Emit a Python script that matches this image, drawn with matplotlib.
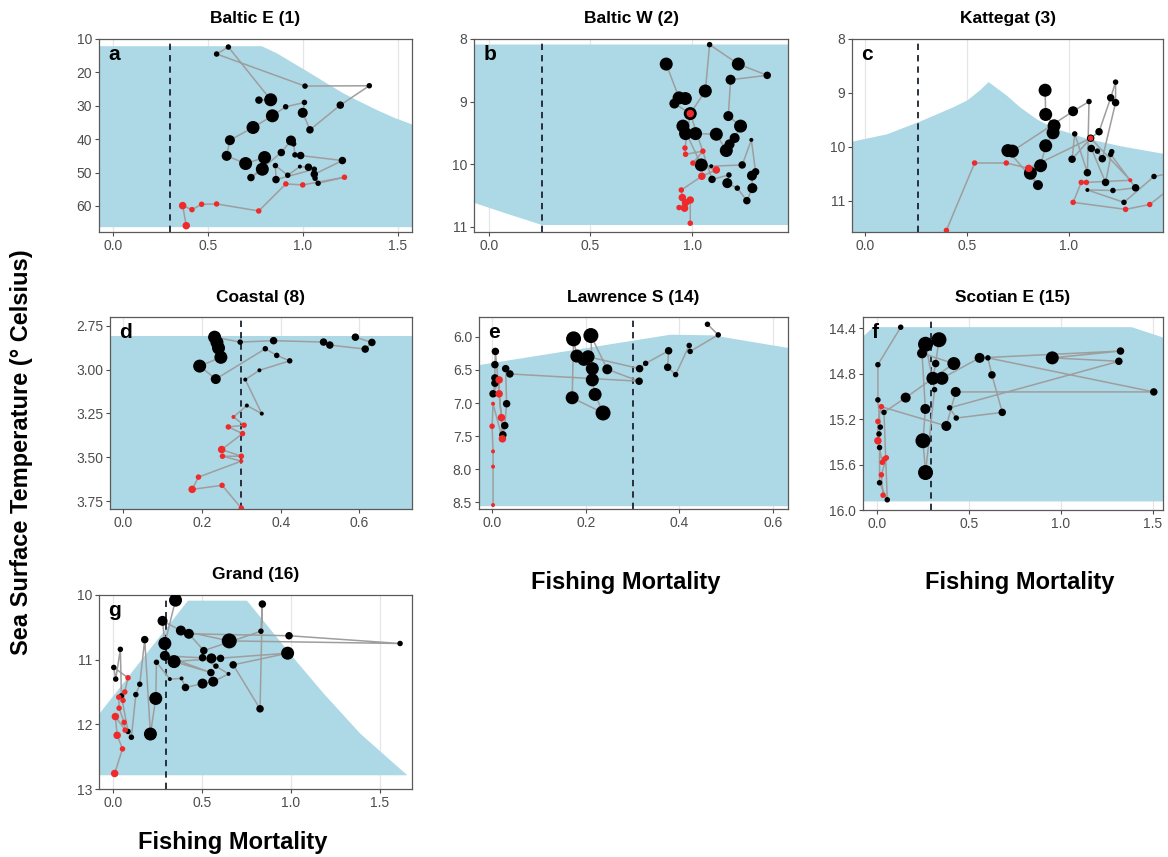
import matplotlib
matplotlib.use("Agg")
import matplotlib.pyplot as plt
import numpy as np

plt.rcParams['font.family'] = ['Liberation Sans', 'DejaVu Sans']

# ---------------- data ----------------
titles = ["Baltic E (1)", "Baltic W (2)", "Kattegat (3)", "Coastal (8)",
          "Lawrence S (14)", "Scotian E (15)", "Grand (16)"]
letters = ["a", "b", "c", "d", "e", "f", "g"]
f_ref = [0.3, 0.26, 0.26, 0.3, 0.3, 0.295, 0.296]

# Panel a
xa = [0.768,0.83,0.607,0.545,1.011,1.35,1.197,1.037,0.999,1.008,0.909,0.839,0.737,0.615,0.598,0.698,0.798,0.786,0.726,0.886,0.937,0.951,0.958,0.988,1.208,1.06,1.029,0.984,0.92,0.855,0.858,1.06,1.064,1.08]
ya = [28.3,28.2,12.4,14.5,24.1,24.0,29.8,37.2,32.1,29.0,30.3,33.0,36.5,40.3,45.0,47.3,45.5,49.0,51.5,44.0,40.4,41.4,44.7,44.9,46.4,50.5,48.4,48.2,50.8,47.9,52.1,49.0,51.7,53.2]
sa = [3,5,2,2,2,2,3,3,4,2,2,5,5,4,4,5,5,5,3,3,4,2,2,3,3,3,3,1,2,2,3,2,2,2]
xra = [1.219,0.999,0.91,0.767,0.545,0.466,0.415,0.366,0.385]
yra = [51.4,53.7,53.4,61.5,59.4,59.5,61.1,59.9,65.9]
sra = [2,2,2,2,2,2,2,3,3]
rib_xa = [-0.08,0.78,0.862,0.95,1.01,1.125,1.213,1.30,1.39,1.477,1.58]
rib_ta = [12,12,14.2,17.2,19.2,23.2,26.2,28.7,31.2,33.4,35.6]
rib_ba = [66.2]*11

# Panel b
xb = [0.872,0.935,0.966,0.912,0.99,1.064,1.085,1.226,1.368,1.188,1.177,1.237,1.208,1.183,1.167,1.118,1.016,0.967,0.954,1.044,1.093,1.245,1.29,1.311,1.293,1.295,1.268,1.221,1.172,1.18,1.097]
yb = [8.40,8.94,8.95,9.03,9.19,8.83,8.09,8.40,8.58,8.65,9.23,9.39,9.58,9.68,9.78,9.52,9.51,9.51,9.39,10.01,10.03,10.01,9.61,10.12,10.18,10.38,10.58,10.38,10.30,10.17,10.24]
sb = [5,5,5,4,5,5,2,5,3,4,4,5,4,4,5,5,5,5,5,5,1,3,1,3,4,4,3,2,4,2,3]
xrb = [0.99,0.964,0.967,1.052,1.003,1.118,1.047,0.946,0.951,0.967,0.935,0.962,0.99,0.99]
yrb = [9.19,9.74,9.84,9.79,9.98,10.09,10.19,10.41,10.53,10.61,10.69,10.70,10.57,10.94]
srb = [3,2,2,2,2,3,3,2,3,3,2,3,3,2]
rib_xb = [-0.08,0.087,0.259,1.48]
rib_tb = [8.08,8.08,8.08,8.08]
rib_bb = [10.6,10.78,10.96,10.96]

# Panel c
xc = [0.883,0.886,0.927,0.922,0.886,0.861,0.811,0.848,0.701,0.723,1.02,1.098,1.09,1.028,1.015,1.106,1.147,1.204,1.228,1.228,1.163,1.139,1.109,1.179,1.209,1.204,1.326,1.215,1.09,1.269,1.416,1.62]
yc = [8.95,9.40,9.61,9.74,9.98,10.35,10.49,10.71,10.07,10.08,9.34,9.16,10.48,9.76,10.23,9.84,9.72,9.09,8.80,9.18,10.22,10.08,10.03,10.66,10.09,10.14,10.76,10.81,10.80,11.03,10.55,10.40]
sc = [5,5,5,5,5,5,5,4,5,5,4,2,3,2,3,3,3,3,2,3,3,2,3,3,2,2,3,2,1,2,2,2]
xrc = [1.395,1.277,1.02,1.06,1.085,1.30,1.106,0.803,0.693,0.538,0.40]
yrc = [11.07,11.16,11.03,10.66,10.66,10.62,9.84,10.40,10.30,10.30,11.55]
src = [2,2,2,2,2,1,2,3,2,2,2]
rib_xc = [-0.07,0.106,0.27,0.43,0.5,0.563,0.604,0.693,0.759,0.84,0.92,1.085,1.25,1.46]
rib_tc = [9.9,9.76,9.52,9.26,9.13,8.94,8.79,9.04,9.26,9.48,9.64,9.84,9.98,10.12]
rib_bc = [11.6]*14

# Panel d
xd = [0.59,0.632,0.615,0.525,0.509,0.382,0.297,0.232,0.238,0.242,0.248,0.194,0.235,0.361,0.39,0.423,0.346,0.31,0.352,0.314]
yd = [2.815,2.845,2.883,2.86,2.843,2.835,2.843,2.815,2.845,2.877,2.93,2.98,3.054,2.881,2.919,2.95,3.004,3.057,3.251,3.205]
sd = [3,3,3,3,3,3,2,5,5,5,5,5,4,2,2,2,1,1,1,1]
xrd = [0.28,0.307,0.267,0.303,0.25,0.30,0.252,0.30,0.191,0.175,0.251,0.30]
yrd = [3.27,3.317,3.327,3.365,3.456,3.494,3.494,3.522,3.613,3.683,3.66,3.79]
srd = [1,2,2,2,3,2,2,1,2,3,2,2]
rib_xd = [-0.04,0.74]
rib_td = [2.81,2.81]
rib_bd = [3.80,3.80]

# Panel e
xe = [0.46,0.483,0.423,0.421,0.392,0.375,0.377,0.328,0.315,0.205,0.196,0.181,0.174,0.171,0.237,0.22,0.214,0.214,0.211,0.246,0.314,0.038,0.029,0.031,0.027,0.023,0.007,0.006,0.006,0.006,0.002]
ye = [5.81,5.97,6.22,6.13,6.57,6.46,6.21,6.40,6.48,6.30,6.34,6.29,6.03,6.92,7.15,6.87,6.65,6.48,5.98,6.49,6.67,6.56,6.48,7.01,7.34,7.48,6.22,6.42,6.62,6.70,6.86]
se = [2,2,2,2,2,3,3,2,3,5,5,5,6,5,6,5,5,5,6,4,3,3,3,3,3,3,3,3,3,3,3]
xre = [0.015,0.015,0.02,0.022,0.002,0.0,0.002,0.002,0.002]
yre = [6.65,6.86,7.22,7.54,7.01,7.35,7.73,7.96,8.54]
sre = [3,3,3,3,1,2,1,1,1]
rib_xe = [-0.03,0.38,0.47,0.64]
rib_te = [6.42,5.96,5.97,6.17]
rib_be = [8.55,8.55,8.55,8.55]

# Panel f
xf = [0.129,0.005,0.005,0.018,0.011,0.014,0.014,0.056,0.038,0.156,0.418,0.245,0.263,0.25,0.264,0.313,0.264,0.337,0.319,0.304,0.353,0.558,1.324,0.953,1.315,0.395,0.431,0.681,0.625,0.603,1.505,0.428,0.377]
yf = [14.39,14.72,15.03,15.27,15.33,15.45,15.76,15.91,15.14,15.01,14.71,14.62,15.11,15.39,15.67,14.94,14.54,14.50,14.71,14.84,14.84,14.66,14.60,14.66,14.69,15.10,15.19,15.14,14.81,14.66,14.96,14.96,15.26]
sf = [2,2,2,2,2,2,2,2,2,4,5,4,4,6,6,2,6,6,3,5,5,4,3,5,3,2,2,3,3,2,3,4,4]
xrf = [0.024,0.005,0.005,0.029,0.042,0.051,0.024,0.033]
yrf = [15.09,15.22,15.39,15.58,15.55,15.54,15.69,15.87]
srf = [2,2,3,2,2,2,2,2]
rib_xf = [-0.08,-0.022,1.382,1.56]
rib_tf = [14.47,14.385,14.385,14.48]
rib_bf = [15.92,15.92,15.92,15.92]

# Panel g
xg = [0.351,0.291,0.278,0.381,0.653,1.613,0.989,0.426,0.51,0.831,0.839,0.826,0.675,0.981,0.343,0.55,0.291,0.553,0.604,0.503,0.578,0.649,0.563,0.503,0.407,0.385,0.319,0.244,0.24,0.21,0.178,0.15,0.128,0.103,0.084,0.047,0.041,0.015,0.004]
yg = [10.08,10.75,10.40,10.55,10.71,10.75,10.63,10.60,10.86,10.56,10.14,11.76,11.08,10.90,11.03,11.20,10.94,10.98,10.98,10.97,11.10,11.22,11.34,11.37,11.43,11.29,11.30,11.04,11.60,12.15,10.69,11.38,11.54,12.20,12.11,11.56,10.84,11.30,11.12]
sg = [5,5,4,4,6,2,3,4,3,2,3,3,3,5,5,3,4,4,3,3,2,1,4,4,3,1,1,2,5,5,3,2,2,2,2,2,2,2,2]
xrg = [0.084,0.066,0.056,0.032,0.034,0.062,0.068,0.013,0.023,0.053,0.009]
yrg = [11.28,11.50,11.63,11.58,11.75,11.97,12.09,11.88,12.17,12.38,12.76]
srg = [2,2,2,2,2,2,2,3,3,2,3]
rib_xg = [-0.08,0.418,0.75,1.022,1.182,1.388,1.651]
rib_tg = [11.83,10.08,10.08,11.0,11.52,12.14,12.78]
rib_bg = [12.78]*7

# axis settings
x_ticks_wide = [0.0, 0.5, 1.0, 1.5]
x_ticks_narrow = [0.0, 0.2, 0.4, 0.6]
y_ticks = [[10,20,30,40,50,60], [8,9,10,11], [8,9,10,11],
           [2.75,3.00,3.25,3.50,3.75], [6.0,6.5,7.0,7.5,8.0,8.5],
           [14.4,14.8,15.2,15.6,16.0], [10,11,12,13]]
y_fmt = ["{:.0f}", "{:.0f}", "{:.0f}", "{:.2f}", "{:.1f}", "{:.1f}", "{:.0f}"]
x_lims = [(-0.075,1.575), (-0.072,1.47), (-0.062,1.46), (-0.034,0.734),
          (-0.028,0.632), (-0.076,1.555), (-0.079,1.68)]
y_lims = [(67.8,10.0), (11.08,8.0), (11.58,8.0), (3.795,2.70),
          (8.60,5.70), (16.0,14.30), (13.0,10.0)]

panels = [
    (xa, ya, sa, xra, yra, sra, rib_xa, rib_ta, rib_ba),
    (xb, yb, sb, xrb, yrb, srb, rib_xb, rib_tb, rib_bb),
    (xc, yc, sc, xrc, yrc, src, rib_xc, rib_tc, rib_bc),
    (xd, yd, sd, xrd, yrd, srd, rib_xd, rib_td, rib_bd),
    (xe, ye, se, xre, yre, sre, rib_xe, rib_te, rib_be),
    (xf, yf, sf, xrf, yrf, srf, rib_xf, rib_tf, rib_bf),
    (xg, yg, sg, xrg, yrg, srg, rib_xg, rib_tg, rib_bg),
]

# ---------------- layout (pixels) ----------------
W, H = 1168, 857
rects_px = [(99, 39, 412, 232), (474, 39, 788, 232), (852, 39, 1163, 232),
            (110, 317, 412, 509), (479, 317, 788, 509), (863, 317, 1163, 510),
            (99, 595, 412, 789)]

diam = {1: 4.0, 2: 5.5, 3: 7.5, 4: 10.0, 5: 13.0, 6: 15.0}
def msize(v):
    return [(diam[k] * 0.72) ** 2 for k in v]

fig = plt.figure(figsize=(W/100, H/100), dpi=100)
tick_col = "#4d4d4d"
for i, (px, py, ps, rx, ry, rs, rbx, rbt, rbb) in enumerate(panels):
    l, t, r, b = rects_px[i]
    ax = fig.add_axes([l/W, 1 - b/H, (r-l)/W, (b-t)/H])
    ax.set_facecolor("white")
    ax.fill_between(rbx, rbt, rbb, color="#add8e6", lw=0, zorder=1)
    ax.axvline(f_ref[i], color="#1c2230", lw=1.3, dashes=(3.5, 2.8), zorder=2)
    ax.plot(list(px) + list(rx), list(py) + list(ry), color="#9e9e9e", lw=1.1,
            zorder=3, solid_joinstyle="round")
    ax.scatter(px, py, s=msize(ps), color="black", lw=0, zorder=4)
    ax.scatter(rx, ry, s=msize(rs), color="#ee2a2a", lw=0, zorder=5)
    ax.set_xlim(*x_lims[i])
    ax.set_ylim(*y_lims[i])
    xt = x_ticks_narrow if i in (3, 4) else x_ticks_wide
    xt = [v for v in xt if x_lims[i][0] <= v <= x_lims[i][1]]
    ax.set_xticks(xt)
    ax.set_xticklabels(["{:.1f}".format(v) for v in xt])
    ax.set_yticks(y_ticks[i])
    ax.set_yticklabels([y_fmt[i].format(v) for v in y_ticks[i]])
    ax.grid(axis="x", color="#e6e6e6", lw=0.9, zorder=0)
    ax.grid(axis="y", visible=False)
    ax.set_axisbelow(True)
    for sp in ax.spines.values():
        sp.set_color("#5a5a5a")
        sp.set_linewidth(0.9)
    ax.tick_params(colors=tick_col, labelsize=10, length=3, width=0.8,
                   labelcolor=tick_col, pad=2)
    ax.text(0.03, 0.97, letters[i], transform=ax.transAxes, fontsize=15,
            fontweight="bold", va="top", ha="left", zorder=6)
    fig.text(((l + r) / 2) / W, 1 - (t - 20) / H, titles[i], ha="center",
             va="center", fontsize=12.5, fontweight="bold")

for cx, cy in [(626, 582), (1020, 582), (233, 842)]:
    fig.text(cx/W, 1 - cy/H, "Fishing Mortality", ha="center", va="center",
             fontsize=17, fontweight="bold")
fig.text(22/W, 1 - 452/H, "Sea Surface Temperature (° Celsius)", rotation=90,
         ha="center", va="center", fontsize=17, fontweight="bold")

fig.savefig("out.png", dpi=100)
